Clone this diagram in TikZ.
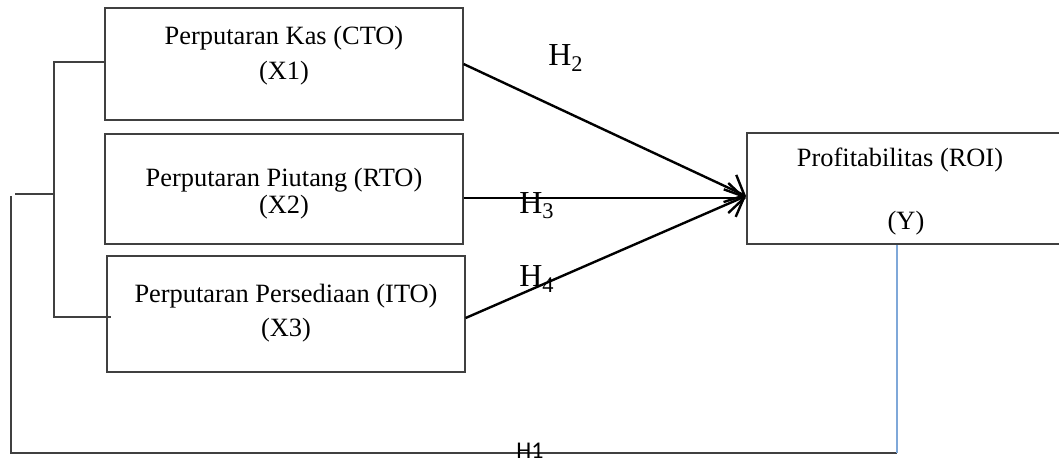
\documentclass[tikz,border=0pt]{standalone}
\usepackage{fontspec}
\setmainfont{Liberation Serif}
\newfontfamily\hfont{Carlito}
\usetikzlibrary{arrows.meta}
\definecolor{boxgray}{HTML}{404040}
\definecolor{linkblue}{HTML}{7FA8D9}
\tikzset{
  varbox/.style={draw=boxgray, line width=0.6pt, rectangle, inner sep=0pt},
  lbl/.style={font=\fontsize{13.2}{15}\selectfont, inner sep=0pt, anchor=center},
  hyp/.style={font=\fontsize{16}{18}\selectfont, inner sep=0pt, anchor=center},
  effect/.style={line width=1.2pt, -{Straight Barb[length=8pt,width=15pt,line width=1.2pt]}},
  frame/.style={draw=boxgray, line width=0.6pt}
}
\begin{document}
\begin{tikzpicture}[x=0.5pt,y=-0.5pt]
\useasboundingbox (0,0) rectangle (1059,463);
% boxes
\node[varbox, minimum width=179pt, minimum height=56pt] (x1) at (284,64) {};
\node[varbox, minimum width=179pt, minimum height=55pt] (x2) at (284,189) {};
\node[varbox, minimum width=179pt, minimum height=58pt] (x3) at (286,314) {};
\node[varbox, minimum width=159pt, minimum height=55.5pt] (y) at (906,188.5) {};
% texts
\node[lbl] (t1a) at (284,38) {Perputaran Kas (CTO)};
\node[lbl] (t1b) at (284,73) {(X1)};
\node[lbl] (t2a) at (284,180) {Perputaran Piutang (RTO)};
\node[lbl] (t2b) at (284,207) {(X2)};
\node[lbl] (t3a) at (286,296) {Perputaran Persediaan (ITO)};
\node[lbl] (t3b) at (286,330) {(X3)};
\node[lbl] (tya) at (900,160) {Profitabilitas (ROI)};
\node[lbl] (tyb) at (906,223) {(Y)};
% arrows
\coordinate (tgt) at (746,196);
\draw[effect] (x1.east) -- (tgt);
\draw[effect] ([yshift=-4.5pt]x2.east) -- ([yshift=-1pt]tgt);
\draw[effect] ([yshift=-2pt]x3.east) -- (tgt);
\node[hyp] (h2) at (566,58) {H\textsubscript{2}};
\node[hyp] (h3) at (537,206) {H\textsubscript{3}};
\node[hyp] (h4) at (537,279) {H\textsubscript{4}};
% bracket
\coordinate (bt) at (54,62);
\coordinate (bb) at (54,317);
\coordinate (bm) at (54,194);
\coordinate (tk) at (15,194);
\draw[frame] (x1.west |- bt) -- (bt) -- (bb) -- (111,317);
\draw[frame] (tk) -- (bm);
% H1 loop
\coordinate (lt) at (11,196);
\coordinate (lb) at (11,453);
\coordinate (rb) at (897,453);
\draw[frame] (lt) -- (lb) -- (rb);
\draw[linkblue, line width=0.6pt] (rb) -- (y.south -| rb);
\node[font=\hfont\fontsize{12}{14}\selectfont, inner sep=0pt, anchor=south] (h1) at (530,459) {H1};
\end{tikzpicture}
\end{document}
